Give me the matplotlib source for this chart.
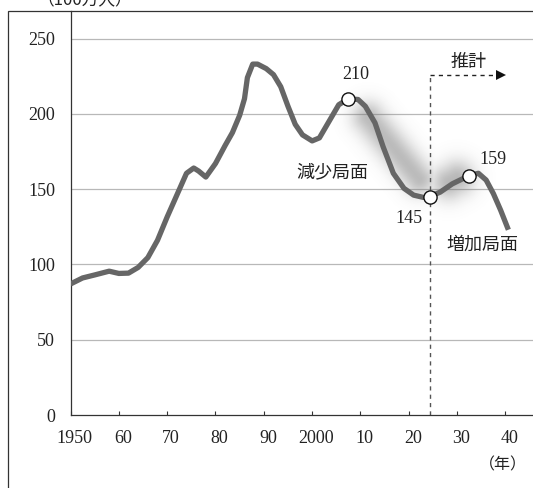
import numpy as np
import matplotlib
matplotlib.use("Agg")
import matplotlib.pyplot as plt
from matplotlib.patches import Rectangle
from matplotlib.transforms import ScaledTranslation

# ---- data -------------------------------------------------------------
years = [1950, 1952.5, 1955, 1958, 1960, 1962, 1964, 1966, 1968, 1970,
         1972, 1974, 1975.5, 1976.5, 1978, 1980, 1982, 1983.5, 1985, 1986,
         1986.6, 1987.7, 1988.7, 1990.5, 1992, 1993.5, 1995, 1996.5, 1998,
         2000, 2001.5, 2003.5, 2005.5, 2007.5, 2009.5, 2011, 2013, 2014.7,
         2016.8, 2019, 2021, 2023, 2024.3, 2026.5, 2029, 2032.5, 2034.4,
         2036, 2037.5, 2039, 2040.6]
values = [87, 91, 93, 95.5, 94, 94.2, 98, 104.5, 116, 131.5,
          146, 160.5, 164, 162, 158, 167, 179, 187.5, 199, 210,
          224, 233, 233, 230, 226, 218, 205, 193, 186,
          182, 184, 195, 206, 210, 209.5, 205, 194, 178,
          160.5, 150.5, 146, 144.5, 145, 148, 153.5, 159, 160.5,
          156, 147, 136, 123]

peak_year, peak_value = 2007.5, 210
trough_year, trough_value = 2024.3, 145
rise_year, rise_value = 2032.5, 159
forecast_start = 2024.3
forecast_end = 2040.0

xtick_pos = [1950, 1960, 1970, 1980, 1990, 2000, 2010, 2020, 2030, 2040]
xtick_labels = ["1950", "60", "70", "80", "90", "2000", "10", "20", "30", "40"]
ytick_pos = [0, 50, 100, 150, 200, 250]
ytick_labels = ["0", "50", "100", "150", "200", "250"]

unit_label = "（100万人）"
year_label = "（年）"
forecast_label = "推計"
decline_label = "減少局面"
growth_label = "増加局面"

# ---- styling ----------------------------------------------------------
SERIF = ["Liberation Serif", "DejaVu Serif"]
CJK = ["Noto Sans CJK JP", "DejaVu Sans"]
LINE = "#666666"
DARK = "#333333"
GRID = "#b8b8b8"

W, H, DPI = 533, 488, 100
fig = plt.figure(figsize=(W / DPI, H / DPI), dpi=DPI)

left_px, right_px = 70.5, 545
top_px, bottom_px = 11, 415
px_per_year = 4.833
px_per_unit = 1.506
xmin = 1950
xmax = xmin + (right_px - left_px) / px_per_year
ymax = (bottom_px - top_px) / px_per_unit

ax = fig.add_axes([left_px / W, (H - bottom_px) / H,
                   (right_px - left_px) / W, (bottom_px - top_px) / H])
ax.set_xlim(xmin, xmax)
ax.set_ylim(0, ymax)

# frame around the whole figure (open to the right / bottom)
fig.add_artist(Rectangle((8 / W, -0.3), 2.0, (H - 11) / H + 0.3,
                         transform=fig.transFigure, fill=False,
                         edgecolor=DARK, linewidth=0.9))

for s in ("top", "right"):
    ax.spines[s].set_visible(False)
for s in ("left", "bottom"):
    ax.spines[s].set_color(DARK)
    ax.spines[s].set_linewidth(0.9)

ax.set_yticks(ytick_pos)
ax.set_yticklabels(ytick_labels, fontfamily=SERIF, fontsize=13)
ax.set_xticks(xtick_pos)
ax.set_xticklabels(xtick_labels, fontfamily=SERIF, fontsize=13)
ax.tick_params(axis="y", length=0, pad=11, colors="#222222")
ax.tick_params(axis="x", direction="in", length=3.2, width=0.8,
               color=DARK, pad=11, labelcolor="#222222")
shift = ScaledTranslation(4 / DPI, 0, fig.dpi_scale_trans)
for lab in ax.get_xticklabels():
    lab.set_transform(lab.get_transform() + shift)

for y in ytick_pos[1:]:
    ax.axhline(y, color=GRID, linewidth=0.9, zorder=0.5)


# ---- soft shadows behind the decline / growth phases ------------------
def to_px(x, y):
    return np.array([(x - xmin) * px_per_year, y * px_per_unit])


def seg_dist(px, py, a, b):
    ab = b - a
    t = ((px - a[0]) * ab[0] + (py - a[1]) * ab[1]) / (ab @ ab)
    t = np.clip(t, 0, 1)
    cx = a[0] + t * ab[0]
    cy = a[1] + t * ab[1]
    return np.hypot(px - cx, py - cy)


gx = np.linspace(xmin, xmax, 700)
gy = np.linspace(0, ymax, 600)
GX, GY = np.meshgrid(gx, gy)
PX = (GX - xmin) * px_per_year
PY = GY * px_per_unit

pk, tr, rs = to_px(peak_year, peak_value), to_px(trough_year, trough_value), to_px(rise_year, rise_value)
v1 = tr - pk
off1 = np.array([7.0, -4.0])
d1 = seg_dist(PX, PY, pk + 0.15 * v1 + off1, pk + 0.78 * v1 + off1)
v2 = rs - tr
off2 = np.array([3.0, 6.0])
d2 = seg_dist(PX, PY, tr + 0.40 * v2 + off2, tr + 0.60 * v2 + off2)
alpha = np.maximum(0.48 * np.exp(-0.5 * (d1 / 11.5) ** 2),
                   0.50 * np.exp(-0.5 * (d2 / 12.5) ** 2))
rgba = np.zeros(GX.shape + (4,))
rgba[..., :3] = 0.45
rgba[..., 3] = alpha
ax.imshow(rgba, extent=[xmin, xmax, 0, ymax], origin="lower",
          aspect="auto", interpolation="bilinear", zorder=1)

# ---- main curve -------------------------------------------------------
ax.plot(years, values, color=LINE, linewidth=3.8, solid_joinstyle="round",
        solid_capstyle="butt", zorder=3)

# forecast marker: vertical dashed line and arrow
ax.plot([forecast_start, forecast_start], [0, 225.5], color="#555555",
        linewidth=1.0, linestyle=(0, (3, 3)), zorder=2)
ax.plot([forecast_start, forecast_end - 1.6], [225.5, 225.5], color="#222222",
        linewidth=1.0, linestyle=(0, (3, 3)), zorder=2)
ax.plot([forecast_end - 0.9], [225.5], marker=">", markersize=7,
        color="#111111", markeredgewidth=0, zorder=2)
ax.text(forecast_start + 8.1, 234.5, forecast_label, fontfamily=CJK,
        fontsize=13, ha="center", va="center", color="#222222")

# highlighted points
for (x, y) in [(peak_year, peak_value), (trough_year, trough_value),
               (rise_year, rise_value)]:
    ax.plot([x], [y], marker="o", markersize=9.5, markerfacecolor="white",
            markeredgecolor="#111111", markeredgewidth=1.0, zorder=4)

ax.annotate(f"{peak_value}", (peak_year, peak_value), xytext=(7, 24),
            textcoords="offset pixels", ha="center", va="center",
            fontfamily=SERIF, fontsize=13, color="#222222")
ax.annotate(f"{trough_value}", (trough_year, trough_value), xytext=(-21, -22),
            textcoords="offset pixels", ha="center", va="center",
            fontfamily=SERIF, fontsize=13, color="#222222")
ax.annotate(f"{rise_value}", (rise_year, rise_value), xytext=(24, 16),
            textcoords="offset pixels", ha="center", va="center",
            fontfamily=SERIF, fontsize=13, color="#222222")

ax.text(2004.1, 161.5, decline_label, fontfamily=CJK, fontsize=13,
        ha="center", va="center", color="#222222")
ax.text(2035.2, 113, growth_label, fontfamily=CJK, fontsize=13,
        ha="center", va="center", color="#222222")

fig.text(503 / W, (H - 465) / H, year_label, fontfamily=CJK, fontsize=11.5,
         ha="center", va="center", color="#222222")
fig.text(85 / W, (H - 8) / H, unit_label, fontfamily=CJK, fontsize=12,
         ha="center", va="bottom", color="#222222")

fig.savefig("out.png", dpi=DPI)
